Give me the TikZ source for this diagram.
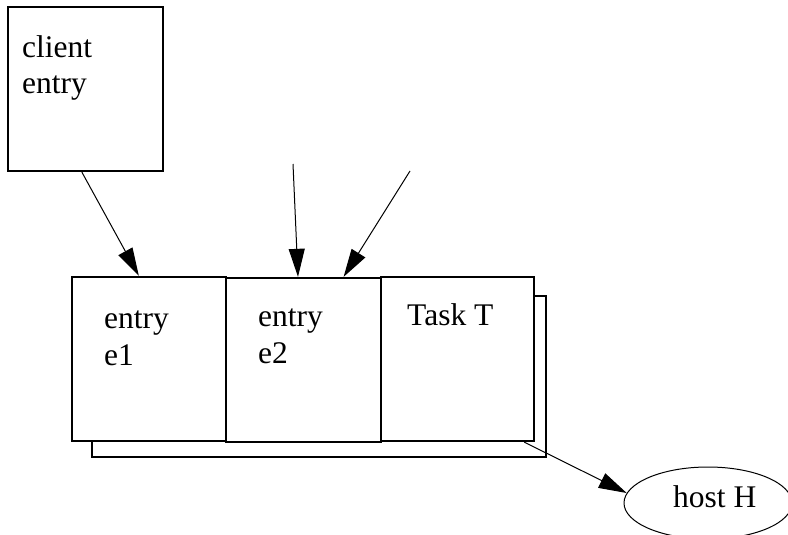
\documentclass[tikz,border=0pt]{standalone}
\usepackage{fontspec}
\setmainfont{Liberation Serif}
\usetikzlibrary{arrows.meta,calc,shapes.geometric}

\tikzset{
  box/.style={draw, line width=2.3pt, fill=white, inner sep=0pt, rectangle},
  lbl/.style={anchor=base west, inner sep=0pt, align=left,
              font=\fontsize{31.5}{36.5}\selectfont},
  link/.style={line width=1pt, -{Triangle[length=28pt,width=16pt]}},
}

\begin{document}
\begin{tikzpicture}[x=1pt,y=-1pt]
  \useasboundingbox (0,0) rectangle (788,535);

  % client entry box
  \node[box, minimum width=155pt, minimum height=164pt] (client) at (85.5,89) {};
  \node[lbl] (clientlbl) at (22,94) {client\\entry};

  % stacked task shadow, then the three entry/task boxes
  \node[box, minimum width=454pt, minimum height=161pt] (back) at (319,376.5) {};
  \node[box, minimum width=154pt, minimum height=164pt] (e1) at (149,359) {};
  \node[box, minimum width=155pt, minimum height=164pt] (e2) at (303.5,360) {};
  \node[box, minimum width=153pt, minimum height=164pt] (task) at (457.5,359) {};

  % labels: anchored at the baseline of their last line
  \node[lbl] (e1lbl) at (104,365) {entry\\e1};
  \node[lbl] (e2lbl) at (258,363) {entry\\e2};
  \node[lbl] (tasklbl) at (407,325) {Task T};

  % host processor
  \node[draw, ellipse, line width=1pt, minimum width=168pt, minimum height=72pt,
        inner sep=0pt] (host) at (708,503) {};
  \node[lbl] (hostlbl) at (673,507) {host H};

  % free ends of incoming calls
  \coordinate (src2) at (293,164);
  \coordinate (src3) at (410,171);

  % calls
  \draw[link] ($(client.south west)!0.477!(client.south east)$)
           -- ($(e1.north west)!0.435!(e1.north east)$);
  \draw[link] (src2) -- ($(e2.north west)!0.465!(e2.north east)$);
  \draw[link] (src3) -- ($(e2.north west)!0.755!(e2.north east)$);
  \draw[link] ($(task.south west)!0.93!(task.south east)$) -- (host.173);
\end{tikzpicture}
\end{document}
